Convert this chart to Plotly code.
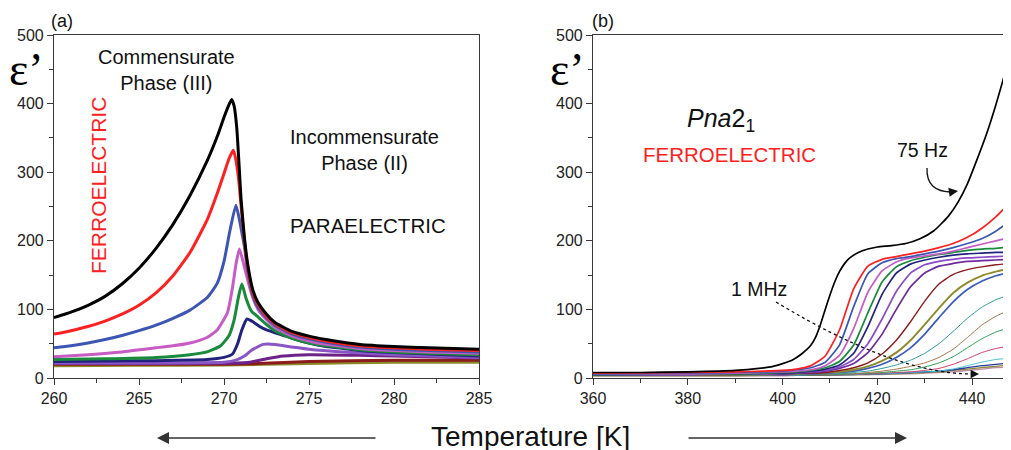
import plotly.graph_objects as go

# ---------------- Panel (a): 260-285 K ----------------
a_black_T = [260, 261, 262, 263, 264, 265, 266, 267, 268, 269, 269.6, 270, 270.25, 270.45, 270.6, 270.75, 270.9, 271.0, 271.2, 271.4, 271.7, 272, 272.5, 273, 273.5, 274, 275, 276, 277, 278, 280, 282, 285]
a_black_E = [88, 96, 106, 119, 137, 160, 189, 224, 266, 316, 352, 380, 396, 406, 396, 365, 305, 262, 205, 165, 128, 110, 93, 81, 74, 68, 61, 56, 52, 49, 46, 44, 42]

a_red_T = [260, 261, 262, 263, 264, 265, 266, 267, 268, 269, 269.6, 270, 270.3, 270.55, 270.7, 270.85, 271.0, 271.2, 271.4, 271.7, 272, 272.5, 273, 273.5, 274, 275, 276, 277, 278, 280, 282, 285]
a_red_E = [64, 69, 75, 83, 93, 106, 124, 149, 183, 230, 269, 298, 320, 332, 318, 292, 252, 200, 160, 124, 107, 90, 79, 72, 66, 59, 54, 50, 47, 44, 42, 40]

a_blue_T = [260, 261, 262, 263, 264, 265, 266, 267, 268, 269, 269.6, 270, 270.35, 270.7, 270.9, 271.05, 271.2, 271.4, 271.7, 272, 272.5, 273, 273.5, 274, 275, 276, 277, 278, 280, 282, 285]
a_blue_E = [44, 47, 51, 56, 62, 69, 77, 87, 99, 117, 138, 170, 215, 252, 232, 212, 192, 155, 120, 103, 88, 77, 70, 64, 57, 52, 48, 45, 42, 40, 38]

a_mag_T = [260, 262, 264, 266, 267, 268, 269, 269.6, 270.2, 270.5, 270.7, 270.9, 271.1, 271.3, 271.5, 271.7, 272, 272.5, 273, 273.5, 274, 275, 276, 277, 278, 280, 282, 285]
a_mag_E = [31, 34, 38, 44, 47, 51, 59, 70, 95, 132, 165, 188, 172, 152, 133, 117, 100, 85, 74, 67, 61, 54, 49, 46, 43, 40, 38, 36]

a_green_T = [260, 263, 266, 268, 269, 269.8, 270.3, 270.6, 270.85, 271.05, 271.3, 271.6, 272, 272.5, 273, 273.5, 274, 275, 276, 277, 278, 280, 282, 285]
a_green_E = [27, 28, 30, 34, 38, 47, 62, 85, 118, 137, 116, 98, 89, 78, 69, 63, 58, 51, 47, 44, 41, 38, 36, 34]

a_navy_T = [260, 265, 269, 270, 270.5, 270.8, 271.05, 271.35, 271.7, 272.1, 272.5, 273, 273.5, 274, 275, 276, 277, 278, 280, 282, 285]
a_navy_E = [24, 25, 27, 30, 35, 50, 70, 86, 82, 75, 70, 66, 62, 58, 51, 46, 43, 40, 37, 35, 32]

a_purple_T = [260, 265, 270, 270.7, 271.2, 271.6, 272.3, 273, 273.5, 275, 277, 280, 285]
a_purple_E = [22, 22, 23, 26, 32, 40, 49, 49, 47, 42, 38, 34, 30]

a_dpurple_T = [260, 265, 270, 271.5, 272.5, 273.5, 275, 278, 280, 285]
a_dpurple_E = [21, 21, 21.5, 23, 28, 32, 34, 33, 32, 29]

a_dred_T = [260, 265, 270, 272, 275, 280, 285]
a_dred_E = [20, 20, 20, 21, 24, 26, 26]

a_olive_T = [260, 265, 270, 275, 280, 285]
a_olive_E = [18, 18.5, 19, 21, 23, 23]

# ---------------- Panel (b): 360-448 K ----------------
b_black_T = [360, 370, 380, 390, 395, 398, 400, 402, 404, 406, 407, 408, 409, 410, 411, 412, 413, 414, 416, 418, 420, 423, 426, 429, 432, 435, 437, 439, 441, 443, 445, 447, 448.2]
b_black_E = [8, 8, 9, 11, 14, 17, 21, 26, 35, 48, 60, 78, 100, 121, 140, 155, 166, 174, 183, 188, 191, 193, 196, 203, 215, 236, 256, 283, 318, 355, 398, 446, 475]

b_T = [360, 380, 390, 396, 400, 403, 406, 409, 412, 415, 418, 421, 424, 427, 430, 433, 436, 439, 442, 445, 448.2]
b_red = [7, 8, 9, 10, 11, 13, 18, 32, 70, 130, 163, 173, 177, 181, 185, 190, 196, 205, 218, 235, 257]
b_blue = [6, 7, 8, 9, 10, 12, 15, 23, 48, 104, 152, 168, 174, 177, 181, 185, 190, 196, 203, 214, 230]
b_mag = [6, 6, 7, 8, 9, 10, 12, 18, 33, 72, 125, 156, 169, 175, 178, 181, 185, 190, 195, 200, 205]
b_green = [5, 6, 6, 7, 8, 9, 11, 15, 24, 48, 95, 140, 162, 171, 176, 180, 183, 186, 188, 189, 191]
b_navy = [5, 6, 6, 7, 7, 8, 10, 13, 19, 36, 75, 122, 153, 166, 172, 176, 179, 181, 182, 183, 183]
b_purple = [5, 5, 6, 6, 7, 8, 9, 11, 16, 27, 50, 86, 126, 153, 165, 170, 173, 175, 176, 177, 178]
b_violet = [5, 5, 6, 6, 6, 7, 8, 10, 14, 21, 37, 64, 100, 133, 153, 163, 167, 170, 171, 172, 173]
b_dred = [5, 5, 5, 6, 6, 7, 7, 8, 11, 15, 22, 35, 55, 82, 112, 137, 151, 158, 162, 165, 167]
b_olive = [5, 5, 5, 5, 6, 6, 7, 8, 9, 12, 17, 25, 37, 55, 78, 102, 124, 139, 149, 155, 160]
b_blue2 = [5, 5, 5, 5, 5, 6, 6, 7, 8, 10, 14, 20, 30, 44, 64, 88, 111, 129, 141, 149, 155]
b_teal = [4, 4, 5, 5, 5, 5, 5, 6, 6, 8, 10, 14, 19, 26, 36, 50, 68, 87, 103, 114, 122]
b_brown = [4, 4, 4, 5, 5, 5, 5, 5, 6, 6, 8, 10, 13, 17, 22, 30, 42, 59, 77, 90, 100]
b_green2 = [4, 4, 4, 4, 5, 5, 5, 5, 5, 6, 7, 8, 10, 12, 16, 22, 31, 44, 57, 67, 74]
b_pink = [4, 4, 4, 4, 4, 5, 5, 5, 5, 6, 6, 7, 8, 9, 11, 14, 20, 28, 37, 43, 47]
b_cyan = [4, 4, 4, 4, 4, 4, 5, 5, 5, 5, 6, 6, 7, 8, 9, 10, 13, 18, 23, 27, 29]
b_navy2 = [4, 4, 4, 4, 4, 4, 5, 5, 5, 5, 6, 6, 7, 8, 9, 10, 12, 15, 18, 20, 22]
b_olive2 = [3, 3, 3, 4, 4, 4, 4, 4, 5, 5, 5, 6, 6, 7, 8, 9, 11, 13, 15, 17, 19]
b_mauve = [3, 3, 3, 3, 3, 4, 4, 4, 4, 5, 5, 5, 6, 6, 7, 8, 9, 11, 13, 15, 16]

# page body has an 8 px margin: build the figure 8 px smaller and shift positions
OFF = 8
W, H = 1011 - OFF, 450 - OFF


def P(px, py):
    return (px - OFF) / W, 1 - (py - OFF) / H


def X(px):
    return (px - OFF) / W


def Y(py):
    return 1 - (py - OFF) / H


fig = go.Figure()


def add(T, E, color, width, ax):
    fig.add_trace(go.Scatter(
        x=T, y=E, mode='lines',
        line=dict(color=color, width=width, shape='spline', smoothing=0.5),
        xaxis='x' if ax == 1 else 'x2', yaxis='y' if ax == 1 else 'y2',
        showlegend=False, hoverinfo='skip'))


left = [
    (a_olive_T, a_olive_E, '#8c8a2a'),
    (a_dred_T, a_dred_E, '#8b1c1c'),
    (a_dpurple_T, a_dpurple_E, '#6e2288'),
    (a_purple_T, a_purple_E, '#8a55c4'),
    (a_navy_T, a_navy_E, '#23237f'),
    (a_green_T, a_green_E, '#1a8a3c'),
    (a_mag_T, a_mag_E, '#c65cc4'),
    (a_blue_T, a_blue_E, '#3c56b4'),
    (a_red_T, a_red_E, '#ff2020'),
    (a_black_T, a_black_E, '#000000'),
]
for T, E, c in left:
    add(T, E, c, 3, 1)

right = [
    (b_mauve, '#c08aa8', 1.3), (b_olive2, '#8a8a3a', 1.3), (b_navy2, '#2a3aa0', 1.3),
    (b_cyan, '#40c4d4', 1.0), (b_pink, '#d03c6c', 1.0), (b_green2, '#2aa050', 1.0),
    (b_brown, '#a8744a', 1.0), (b_teal, '#2a9c9c', 1.0),
    (b_blue2, '#3a5cbc', 1.7), (b_olive, '#8c8c2c', 1.9), (b_dred, '#8b1c1c', 1.4),
    (b_violet, '#6e2a9e', 1.7), (b_purple, '#8a4cc8', 1.7), (b_navy, '#23237f', 1.7),
    (b_green, '#1a8a3c', 1.7), (b_mag, '#c65cc4', 1.7), (b_blue, '#3c56b4', 1.7),
    (b_red, '#ff2020', 1.7),
]
for E, c, w in right:
    add(b_T, E, c, w, 2)
add(b_black_T, b_black_E, '#000000', 1.7, 2)

font = 'Arial, Liberation Sans, sans-serif'
axcol = '#3a3a3a'
tickfont = dict(family=font, size=16, color='#222222')
common = dict(showline=True, linecolor=axcol, linewidth=1.2, ticks='outside', ticklen=6,
              tickwidth=1.2, tickcolor=axcol, showgrid=False, zeroline=False, tickfont=tickfont,
              automargin=False)
ydom = [Y(378), Y(35)]
mnr = lambda d: dict(dtick=d, ticks='outside', ticklen=3.5, tickcolor=axcol, tickwidth=1.1)

fig.update_layout(
    width=W, height=H, margin=dict(l=0, r=0, t=0, b=0, pad=0, autoexpand=False),
    paper_bgcolor='white', plot_bgcolor='white',
    xaxis=dict(domain=[X(54), X(479)], range=[260, 285], tick0=260, dtick=5, anchor='y', mirror=True,
               minor=mnr(2.5), **common),
    yaxis=dict(domain=ydom, range=[0, 500], dtick=100, anchor='x', mirror=True, minor=mnr(50), **common),
    xaxis2=dict(domain=[X(593), 1.0], range=[360, 448.2], tick0=360, dtick=20, anchor='y2', mirror=True,
                minor=mnr(10), **common),
    yaxis2=dict(domain=ydom, range=[0, 500], dtick=100, anchor='x2', minor=mnr(50), **common),
)

anns = []


def text(px, py, s, size, color='#111111', family=font, angle=0):
    x, y = P(px, py)
    anns.append(dict(x=x, y=y, xref='paper', yref='paper', text=s, showarrow=False,
                     font=dict(family=family, size=size, color=color), textangle=angle,
                     xanchor='center', yanchor='middle'))


def arrow(hx, hy, tx, ty, color='#333333', width=1.5, size=1.6, head=2):
    x, y = P(hx, hy)
    anns.append(dict(x=x, y=y, xref='paper', yref='paper', ax=tx - hx, ay=ty - hy,
                     text='', showarrow=True, arrowhead=head, arrowsize=size,
                     arrowwidth=width, arrowcolor=color))


serif = 'Liberation Serif, Times New Roman, serif'
text(62, 21, '(a)', 18)
text(603, 21, '(b)', 18)
text(26, 70, 'ε’', 46, '#000000', serif)
text(567, 70, 'ε’', 46, '#000000', serif)
text(166, 70, 'Commensurate<br>Phase (III)', 20)
text(364, 150, 'Incommensurate<br>Phase (II)', 20)
text(368, 225, 'PARAELECTRIC', 20.5)
text(98, 186, 'FERROELECTRIC', 21, '#ff2020', angle=-90)
text(721, 120, '<i>Pna</i>2<sub>1</sub>', 25)
text(729, 155, 'FERROELECTRIC', 20.5, '#ff2020')
text(922, 150, '75 Hz', 19.5)
text(759, 289, '1 MHz', 19.5)
text(530, 436, 'Temperature [K]', 28)

arrow(157, 438, 377, 438)
arrow(907, 438, 687, 438)
arrow(958, 191, 948, 192.5, '#111111', 1.3, 1.4)
arrow(979, 374, 970, 374, '#111111', 1.2, 1.4)

shapes = []


def qpath(p0, c, p1):
    a, b, d = P(*p0), P(*c), P(*p1)
    return f'M {a[0]},{a[1]} Q {b[0]},{b[1]} {d[0]},{d[1]}'


shapes.append(dict(type='path', xref='paper', yref='paper', path=qpath((927, 168), (926, 192), (952, 192)),
                   line=dict(color='#111111', width=1.3)))
shapes.append(dict(type='path', xref='paper', yref='paper', path=qpath((776, 302), (895, 374), (972, 374)),
                   line=dict(color='#111111', width=1.3, dash='dot')))

fig.update_layout(annotations=anns, shapes=shapes)
fig.write_html('out.html')
